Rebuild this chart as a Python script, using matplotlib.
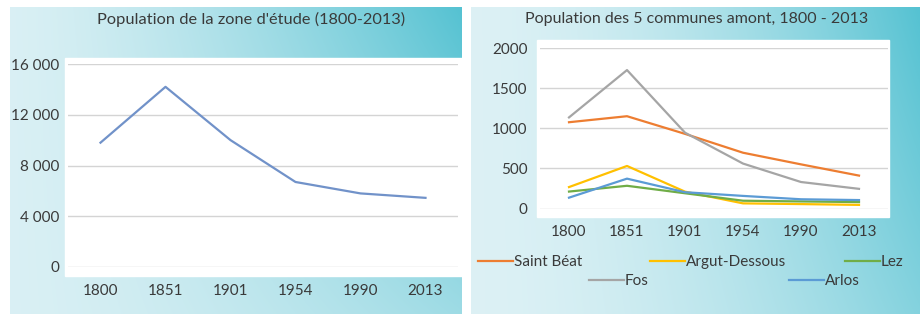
import numpy as np
import matplotlib.pyplot as plt
from matplotlib.colors import to_rgb
from matplotlib.ticker import FuncFormatter

plt.rcParams['font.family'] = ['Lato', 'DejaVu Sans']

years = ['1800', '1851', '1901', '1954', '1990', '2013']
zone_pop = [9800, 14200, 10000, 6700, 5800, 5450]

saint_beat = [1075, 1150, 930, 695, 550, 410]
argut_dessous = [267, 530, 210, 64, 55, 45]
lez = [211, 283, 190, 97, 88, 80]
fos = [1135, 1725, 945, 560, 330, 245]
arlos = [135, 372, 203, 157, 115, 105]

communes = ['Saint Béat', 'Argut-Dessous', 'Lez', 'Fos', 'Arlos']
commune_data = [saint_beat, argut_dessous, lez, fos, arlos]
commune_colors = ['#ED7D31', '#FFC000', '#70AD47', '#A5A5A5', '#5B9BD5']

W, H = 924, 314
txt = '#3a3a3a'
grid_c = '#d4d4d4'
light = np.array(to_rgb('#e8f5f8'))
teal = np.array(to_rgb('#55c2d2'))

fig = plt.figure(figsize=(W / 100, H / 100), dpi=100)

# background gradients (pixel coordinates)
bg = fig.add_axes([0, 0, 1, 1])
bg.set_xlim(0, W)
bg.set_ylim(H, 0)
bg.axis('off')


def panel(x0, x1, y0, y1, base, p, fade):
    nx, ny = int(x1 - x0), int(y1 - y0)
    xf = np.linspace(0, 1, nx)[None, :]
    yf = np.linspace(0, 1, ny)[:, None]
    f = base + (1 - base) * xf ** p * (1 - fade * yf)
    f = np.clip(f, 0, 1)[..., None]
    img = light * (1 - f) + teal * f
    bg.imshow(img, extent=(x0, x1, y1, y0), aspect='auto', zorder=0)


panel(10, 462, 7, 314, 0.1, 1.4, 0.55)
panel(471, 920, 7, 314, 0.08, 1.7, 0.35)
bg.add_patch(plt.Rectangle((65, 58), 397, 218, color='white', zorder=1))
bg.add_patch(plt.Rectangle((537, 40), 352, 177, color='white', zorder=1))

bg.text(251, 19, "Population de la zone d'étude (1800-2013)", ha='center', va='center',
        fontsize=11.8, color=txt)
bg.text(697, 19, 'Population des 5 communes amont, 1800 - 2013', ha='center', va='center',
        fontsize=11.5, color=txt)

# left chart
ax1 = fig.add_axes([68 / W, 1 - 267 / H, 390 / W, 203 / H])
ax1.set_facecolor('none')
ax1.plot(range(len(years)), zone_pop, color='#7192c9', lw=1.6)
ax1.set_xlim(-0.5, 5.5)
ax1.set_ylim(0, 16000)
ax1.set_yticks([0, 4000, 8000, 12000, 16000])
ax1.yaxis.set_major_formatter(FuncFormatter(lambda v, _: f'{v:,.0f}'.replace(',', ' ')))
ax1.set_xticks(range(len(years)))
ax1.set_xticklabels(years)

# right chart
ax2 = fig.add_axes([540 / W, 1 - 208.5 / H, 348 / W, 160.5 / H])
ax2.set_facecolor('none')
lines = []
for name, vals, c in zip(communes, commune_data, commune_colors):
    ln, = ax2.plot(range(len(years)), vals, color=c, lw=1.6, label=name)
    lines.append(ln)
ax2.set_xlim(-0.5, 5.5)
ax2.set_ylim(0, 2000)
ax2.set_yticks([0, 500, 1000, 1500, 2000])
ax2.set_xticks(range(len(years)))
ax2.set_xticklabels(years)

for ax, ypad in ((ax1, 6), (ax2, 9)):
    for s in ax.spines.values():
        s.set_visible(False)
    ax.grid(axis='y', color=grid_c, lw=1)
    ax.set_axisbelow(True)
    ax.tick_params(axis='both', length=0, labelsize=11, colors=txt)
    ax.tick_params(axis='x', pad=12)
    ax.tick_params(axis='y', pad=ypad)

# legend entries laid out like the Excel legend
legend_pos = [(478, 262), (650, 262), (845, 262), (589, 281), (789, 281)]
for ln, (px, py) in zip(lines, legend_pos):
    lg = fig.legend(handles=[ln], labels=[ln.get_label()], loc='center left',
                    bbox_to_anchor=(px / W, 1 - py / H), frameon=False,
                    handlelength=2.3, handletextpad=0.05, borderpad=0,
                    borderaxespad=0, fontsize=11, labelcolor=txt)

fig.savefig('out.png', dpi=100)
